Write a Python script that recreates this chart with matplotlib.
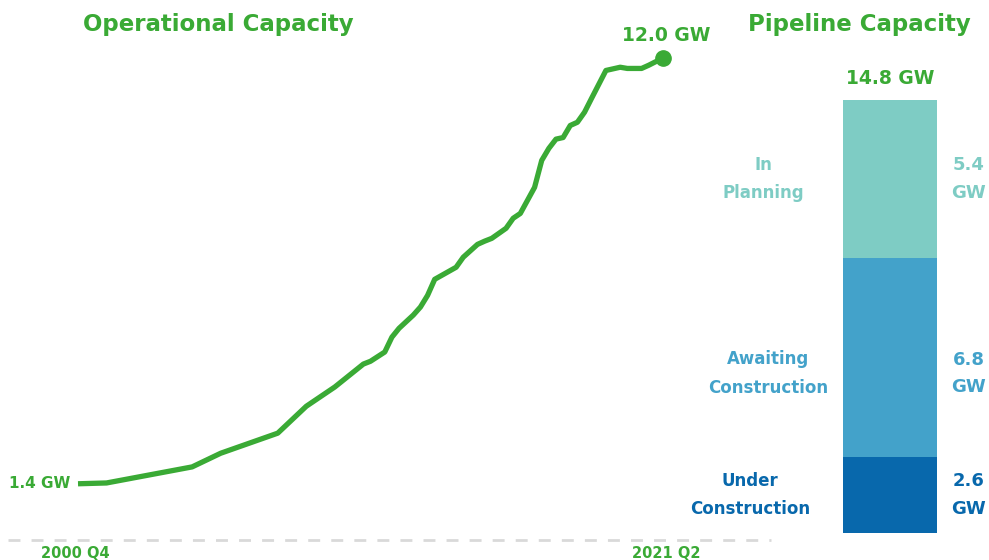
import matplotlib
matplotlib.use("Agg")
import matplotlib.pyplot as plt

# ---- data ----
quarter_idx = [0, 4, 16, 20, 24, 28, 32, 36, 40, 41, 43, 44, 45, 47, 48, 49, 50, 51,
               53, 54, 56, 57, 58, 60, 61, 62, 64, 65, 66, 67, 68, 69, 70, 71, 72,
               74, 76, 77, 79, 80, 82]
capacity_gw = [1.4, 1.42, 1.82, 2.16, 2.41, 2.66, 3.33, 3.81, 4.38, 4.45, 4.68, 5.05,
               5.27, 5.60, 5.80, 6.09, 6.49, 6.59, 6.79, 7.04, 7.36, 7.44, 7.51, 7.76,
               8.01, 8.13, 8.78, 9.45, 9.75, 9.98, 10.02, 10.32, 10.40, 10.65, 11.0,
               11.69, 11.77, 11.74, 11.74, 11.82, 12.0]
start_label = "2000 Q4"
end_label = "2021 Q2"

pipeline_cats = ["Under\nConstruction", "Awaiting\nConstruction", "In\nPlanning"]
pipeline_vals = [2.6, 6.8, 5.4]
pipeline_colors = ["#0868ac", "#43a2ca", "#7eccc4"]

GREEN = "#3aaa35"
FONT = ["DejaVu Sans"]
plt.rcParams['font.family'] = FONT

W, H = 989, 560
fig = plt.figure(figsize=(W / 100, H / 100), dpi=100)

def px_axes(x0, y0, x1, y1):
    # pixel box (top-left origin) to figure axes
    return fig.add_axes([x0 / W, (H - y1) / H, (x1 - x0) / W, (y1 - y0) / H])

# ---- line chart ----
ax = px_axes(8, 58, 771, 540)
px_per_q = (663 - 78) / 82
ax.set_xlim(-(78 - 8) / px_per_q, 82 + (771 - 663) / px_per_q)
ax.set_ylim(0, 12.0)
ax.plot(quarter_idx, capacity_gw, color=GREEN, lw=3.8, solid_joinstyle='round',
        solid_capstyle='butt', clip_on=False, zorder=3)
ax.plot([quarter_idx[-1]], [capacity_gw[-1]], 'o', color=GREEN, ms=11, clip_on=False, zorder=4)
ax.axhline(0, color="#d9d9d9", lw=2.0, ls=(0, (4.3, 4.0)), clip_on=False)
for s in ax.spines.values():
    s.set_visible(False)
ax.set_xticks([])
ax.set_yticks([])
ax.patch.set_alpha(0)

ax.text(quarter_idx[0] - 1.1, capacity_gw[0], f"{capacity_gw[0]:.1f} GW", color=GREEN,
        fontsize=11, fontweight='bold', ha='right', va='center')
ax.text(quarter_idx[-1] + 0.5, capacity_gw[-1] + 0.55, f"{capacity_gw[-1]:.1f} GW", color=GREEN,
        fontsize=13.5, fontweight='bold', ha='center', va='center')
ax.text(quarter_idx[0] - 0.4, -0.33, start_label, color=GREEN, fontsize=10.5,
        fontweight='bold', ha='center', va='center')
ax.text(quarter_idx[-1] + 0.5, -0.33, end_label, color=GREEN, fontsize=10.5,
        fontweight='bold', ha='center', va='center')

fig.text(218 / W, 1 - 24 / H, "Operational Capacity", color=GREEN, fontsize=16.5,
         fontweight='bold', ha='center', va='center')
fig.text(859 / W, 1 - 24 / H, "Pipeline Capacity", color=GREEN, fontsize=16.5,
         fontweight='bold', ha='center', va='center')

# ---- stacked bar ----
bx = px_axes(843, 100, 937, 533)
total = sum(pipeline_vals)
bx.set_xlim(-0.5, 0.5)
bx.set_ylim(0, total)
bottom = 0
label_shift = [0.0, -0.55, 0.0]
label_x = [750, 768, 763]
for cat, val, col, sh, lx in zip(pipeline_cats, pipeline_vals, pipeline_colors, label_shift, label_x):
    bx.bar(0, val, width=1.0, bottom=bottom, color=col, edgecolor='none')
    ymid = bottom + val / 2 + sh
    bx.text(-0.5 - (843 - lx) / 94, ymid, cat, color=col, fontsize=12, fontweight='bold',
            ha='center', va='center', linespacing=1.75)
    bx.text(0.5 + (969 - 937) / 94, ymid, f"{val:.1f}\nGW", color=col, fontsize=13,
            fontweight='bold', ha='center', va='center', linespacing=1.7)
    bottom += val
bx.text(0.5 - (937 - 890) / 94, total + 0.72, f"{total:.1f} GW", color=GREEN,
        fontsize=13.5, fontweight='bold', ha='center', va='center')
for s in bx.spines.values():
    s.set_visible(False)
bx.set_xticks([])
bx.set_yticks([])
bx.patch.set_alpha(0)

fig.savefig("out.png", dpi=100)
